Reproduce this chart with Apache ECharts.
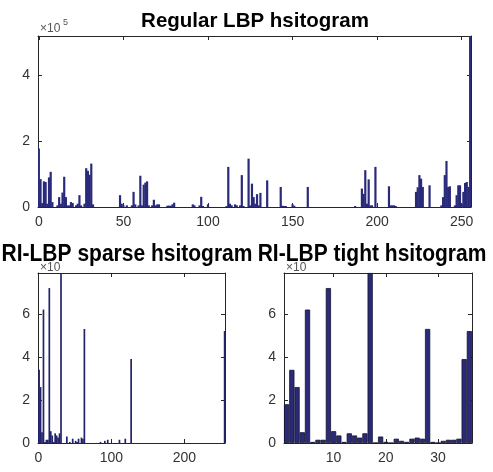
<!DOCTYPE html>
<html><head><meta charset="utf-8">
<script src="https://cdn.jsdelivr.net/npm/echarts@6/dist/echarts.min.js"></script>
<style>html,body{margin:0;padding:0;background:#fff}#c{width:493px;height:472px}</style>
</head><body><div id="c"></div>
<script>
// Regular LBP histogram, bins 0..255, values in units of 1e5
const regularLbp = [
  1.78,0.85,0.12,0.78,0.76,0.1,0.9,1.07,0.15,0,0,0.05,0.3,0.1,0.44,0.92,
  0.3,0.05,0.05,0.15,0.12,0,0.05,0.1,0.36,0.05,0,0.1,1.18,1.1,0.98,1.32,
  0.08,0,0,0,0,0,0,0,0,0,0,0,0,0,0,0,
  0.36,0.1,0.05,0,0.05,0,0,0.05,0.46,0.08,0,0.05,0.95,0.05,0.68,0.74,
  0.78,0.05,0,0.05,0.22,0.05,0.08,0.08,0,0,0,0,0.04,0.04,0.04,0.08,
  0.13,0,0,0,0,0,0,0,0,0,0,0.08,0.05,0,0,0.05,
  0.31,0.03,0,0,0.08,0,0,0,0,0,0,0,0,0,0,0.03,
  1.22,0.1,0.05,0,0.08,0.05,0,0.05,0.97,0.03,0,0,1.47,0.05,0.71,0.3,
  0.1,0.39,0.05,0.43,0,0,0,0.81,0,0,0,0,0,0,0,0.61,
  0.04,0.03,0.03,0,0,0,0.08,0.04,0,0,0,0,0,0,0,0.61,
  0,0,0,0,0,0,0,0,0,0,0,0,0,0,0,0,
  0,0,0,0,0,0,0,0,0,0,0,0.03,0,0,0,0.56,
  0.4,1.12,0.1,0.84,0.05,0.05,0,1.22,0,0,0,0,0,0,0,0.63,
  0.05,0.05,0.05,0.03,0,0,0,0,0,0,0,0,0,0,0,0.46,
  0.6,0.97,0.86,0.61,0,0,0,0.66,0,0,0,0,0,0,0.05,0.3,
  0.97,1.4,0.61,0.63,0,0,0.05,0.36,0.66,0.66,0.1,0.46,0.73,0.76,0.61,5.2
];
// Rotation-invariant LBP codes (36 patterns) and their counts (units of 1e4)
const riCodes = [0,1,3,5,7,9,11,13,15,17,19,21,23,25,27,29,31,37,39,43,45,47,51,53,55,59,61,63,85,87,91,95,111,119,127,255];
const riTight = [1.8,3.4,2.6,0.5,6.2,0.05,0.15,0.15,7.2,0.55,0.35,0.05,0.45,0.35,0.25,0.45,7.9,0,0.3,0.05,0,0.2,0.1,0.05,0.2,0.25,0.2,5.3,0.05,0,0.1,0.15,0.15,0.2,3.9,5.2];
const regularXTicks = [0,50,100,150,200,250];
const sparseXTicks = [0,100,200];
const tightXTicks = [10,20,30];
const titles = ['Regular LBP hsitogram','RI-LBP sparse hsitogram','RI-LBP tight hsitogram'];

const regularCats = regularLbp.map((_, i) => i);
const sparseCats = regularLbp.map((_, i) => i);
const sparseVals = sparseCats.map(c => { const k = riCodes.indexOf(c); return k >= 0 ? riTight[k] : 0; });
const tightCats = riTight.map((_, i) => i + 1);

const FONT = "'Liberation Sans', Arial, sans-serif";
const axisColor = '#262626';
const lbl = {color:'#333', fontFamily:FONT, fontSize:14};

function xCat(gridIndex, cats, ticks, position) {
  const fn = (idx, val) => ticks.indexOf(Number(val)) >= 0;
  return {type:'category', gridIndex, data:cats, position, boundaryGap:true,
    axisLine:{show:true, onZero:false, lineStyle:{color:axisColor, width:1}},
    axisTick:{show:true, inside:true, length:4, alignWithLabel:true, interval:fn, lineStyle:{color:axisColor}},
    axisLabel:{show:position === 'bottom', interval:fn, margin:8, ...lbl},
    splitLine:{show:false}};
}
function yVal(gridIndex, max, position) {
  return {type:'value', gridIndex, min:0, max, interval:2, position,
    axisLine:{show:true, onZero:false, lineStyle:{color:axisColor, width:1}},
    axisTick:{show:true, inside:true, length:4, lineStyle:{color:axisColor}},
    axisLabel:{show:position === 'left', showMaxLabel:false, margin:8, ...lbl},
    splitLine:{show:false}};
}

const chart = echarts.init(document.getElementById('c'), null, {renderer:'canvas'});
chart.setOption({
  animation:false,
  backgroundColor:'#fff',
  grid:[
    {left:38, top:36, width:433, height:171},
    {left:38, top:273, width:187, height:170},
    {left:284, top:273, width:188, height:170}
  ],
  xAxis:[
    xCat(0, regularCats, regularXTicks, 'bottom'),
    xCat(0, regularCats, regularXTicks, 'top'),
    xCat(1, sparseCats, sparseXTicks, 'bottom'),
    xCat(1, sparseCats, sparseXTicks, 'top'),
    xCat(2, tightCats, tightXTicks, 'bottom'),
    xCat(2, tightCats, tightXTicks, 'top')
  ],
  yAxis:[
    yVal(0, 5.2, 'left'), yVal(0, 5.2, 'right'),
    yVal(1, 7.9, 'left'), yVal(1, 7.9, 'right'),
    yVal(2, 7.9, 'left'), yVal(2, 7.9, 'right')
  ],
  series:[
    {type:'bar', xAxisIndex:0, yAxisIndex:0, data:regularLbp, barWidth:2.2,
     itemStyle:{color:'#2a2a7a'}},
    {type:'bar', xAxisIndex:2, yAxisIndex:2, data:sparseVals, barWidth:1.7,
     itemStyle:{color:'#23236a'}},
    {type:'bar', xAxisIndex:4, yAxisIndex:4, data:riTight, barCategoryGap:'0%',
     itemStyle:{color:'#2a2a78', borderColor:'#141430', borderWidth:0.8}}
  ],
  graphic:[
    {type:'text', x:40, y:23, z:1, style:{text:'×10', font:'12px ' + FONT, fill:'#555'}},
    {type:'text', x:63, y:18, z:1, style:{text:'5', font:'9px ' + FONT, fill:'#555'}},
    {type:'text', x:40, y:262, z:1, style:{text:'×10', font:'12px ' + FONT, fill:'#555'}},
    {type:'text', x:286, y:262, z:1, style:{text:'×10', font:'12px ' + FONT, fill:'#555'}},
    {type:'text', x:255, y:21, z:10, style:{text:titles[0], font:'bold 20.5px ' + FONT, fill:'#000',
      align:'center', verticalAlign:'middle', textAlign:'center', textVerticalAlign:'middle'}},
    {type:'text', x:127, y:254, scaleY:1.15, z:10, style:{text:titles[1], font:'bold 21px ' + FONT, fill:'#000',
      align:'center', verticalAlign:'middle', textAlign:'center', textVerticalAlign:'middle'}},
    {type:'text', x:372, y:254, scaleY:1.15, z:10, style:{text:titles[2], font:'bold 21px ' + FONT, fill:'#000',
      align:'center', verticalAlign:'middle', textAlign:'center', textVerticalAlign:'middle'}}
  ]
});
</script></body></html>
